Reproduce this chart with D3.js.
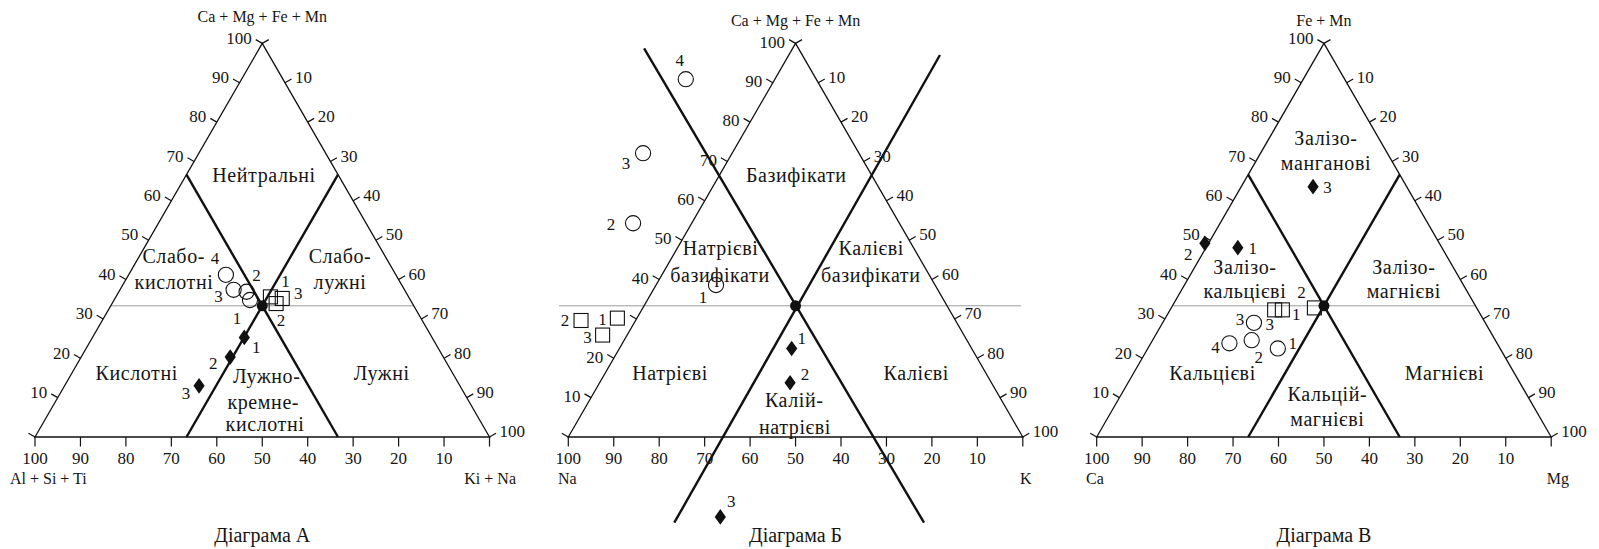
<!DOCTYPE html>
<html><head><meta charset="utf-8">
<script src="https://cdn.jsdelivr.net/npm/d3@7"></script>
<style>
body{margin:0;background:#fff}
svg text{fill:#151515}
</style></head>
<body><svg id="c" width="1599" height="549"></svg>
<script>
// ---------------- DATA (percent) ----------------
const tickValues = [0,10,20,30,40,50,60,70,80,90,100];
const pointNames = ["1","2","3","4"];

// Diagram A: top = Ca+Mg+Fe+Mn, left = Al+Si+Ti, right = Ki+Na
const aCircleTop   = [34.8, 36.9, 37.4, 41.2];
const aCircleRight = [29.9, 28.1, 25.0, 21.4];
const aSquareTop   = [35.6, 33.9, 35.2];
const aSquareRight = [34.0, 36.1, 36.8];
const aDiamondTop   = [25.3, 20.3, 13.0];
const aDiamondRight = [33.4, 32.8, 29.6];

// Diagram B: top = Ca+Mg+Fe+Mn, left = Na, right = K
const bCircleTop = [38.6, 54.3, 72.1, 90.9];
const bCircleNa  = [48.2, 58.6, 47.5, 28.7];
const bSquareTop = [30.2, 29.6, 25.9];
const bSquareNa  = [74.1, 82.4, 79.5];
const bDiamondTop = [22.5, 13.8, -20.3];
const bDiamondNa  = [39.6, 44.3, 76.7];

// Diagram C: top = Fe+Mn, left = Ca, right = Mg
const cCircleTop   = [22.5, 24.6, 29.0, 23.8];
const cCircleRight = [28.6, 21.8, 20.1, 17.3];
const cSquareTop   = [32.3, 32.8, 32.3];
const cSquareRight = [24.7, 31.5, 23.0];
const cDiamondTop   = [48.1, 49.2, 63.6];
const cDiamondRight = [7.0, -0.8, 15.8];

// ---------------- LAYOUT ----------------
const SIDE = 454.5, HT = SIDE*Math.sqrt(3)/2;
const svg = d3.select("#c");
const FONT = "'Liberation Serif','DejaVu Serif',serif";

const panels = [
 {x0:35, yb:437, top:"Ca + Mg + Fe + Mn", topY:16.7, left:"Al + Si + Ti", right:"Ki + Na",
  leftX:10, leftAnchor:"start", rightX:516, rightAnchor:"end", name:"Діаграма А", skipLeft:[], leftDy:0,
  thick:[[[200/3,0],[0,200/3]],[[0,100/3],[200/3,100/3]]], hline:[[100/3,0],[100/3,200/3]],
  regions:[["Нейтральні",229,-262],["Слабо-",138.7,-181],["кислотні",139,-155.3],
   ["Слабо-",305,-181],["лужні",305,-155.3],["Кислотні",101.7,-63.7],
   ["Лужно-",231.7,-61.3],["кремне-",228.3,-35.3],["кислотні",230,-13],["Лужні",346.7,-63.7]],
  series:[
   {type:"circle", top:aCircleTop, right:aCircleRight, lab:[[-13,18],[10,-16],[-15,7],[-11,-16]]},
   {type:"square", top:aSquareTop, right:aSquareRight, lab:[[15,-15],[5,17],[16,-5]]},
   {type:"diamond", top:aDiamondTop, right:aDiamondRight, lab:[[12,10],[-17,6],[-13,8]]}
  ]},
 {x0:568.3, yb:437, top:"Ca + Mg + Fe + Mn", topY:20.7, left:"Na", right:"K",
  leftX:558, leftAnchor:"start", rightX:1020, rightAnchor:"start", name:"Діаграма Б", skipLeft:[30], leftDy:4,
  thick:[[[98.75,-32.7],[-21.77,89.15]],[[-21.77,34.2],[97.05,33.25]]], hline:[[100/3,-18.7],[100/3,82.9]],
  regions:[["Базифікати",228,-262],["Натрієві",152.2,-188.7],["базифікати",151.7,-162],
   ["Калієві",302.9,-188.7],["базифікати",302.5,-162],["Натрієві",101.7,-63.7],
   ["Калієві",348,-63.7],["Калій-",225.9,-37],["натрієві",226.7,-10.3]],
  series:[
   {type:"circle", top:bCircleTop, right:bCircleTop.map((t,i)=>100-t-bCircleNa[i]), lab:[[-13,12],[-22,1],[-17,10],[-6,-19]]},
   {type:"square", top:bSquareTop, right:bSquareTop.map((t,i)=>100-t-bSquareNa[i]), lab:[[-15,1],[-16,0],[-15,2]]},
   {type:"diamond", top:bDiamondTop, right:bDiamondTop.map((t,i)=>100-t-bDiamondNa[i]), lab:[[10,-10],[15,-8],[11,-15]]}
  ]},
 {x0:1096.7, yb:437, top:"Fe + Mn", topY:20.7, left:"Ca", right:"Mg",
  leftX:1086, leftAnchor:"start", rightX:1569, rightAnchor:"end", name:"Діаграма В", skipLeft:[], leftDy:0,
  thick:[[[200/3,0],[0,200/3]],[[0,100/3],[200/3,100/3]]], hline:[[100/3,0],[100/3,200/3]],
  regions:[["Залізо-",229.3,-298.7],["манганові",229.3,-273.7],["Залізо-",148.2,-170.3],["кальцієві",148.2,-146.3],
   ["Залізо-",307.1,-170.3],["магнієві",307.1,-146.3],["Кальцієві",115.9,-63.7],["Магнієві",347.7,-63.7],
   ["Кальцій-",230.7,-43],["магнієві",230.7,-17.7]],
  series:[
   {type:"circle", top:cCircleTop, right:cCircleRight, lab:[[15,-5],[7,17],[-14,-3],[-14,4]]},
   {type:"square", top:cSquareTop, right:cSquareRight, lab:[[14,5],[-13,-15],[-5,15]]},
   {type:"diamond", top:cDiamondTop, right:cDiamondRight, lab:[[15,1],[-16.6,11],[14.5,0.6]]}
  ]}
];

const C30 = Math.cos(Math.PI/6), S30 = 0.5, TL = 7.5, BT = 9.5;

function txt(g, x, y, s, size, anchor){
  return g.append("text").attr("x",x).attr("y",y).attr("text-anchor",anchor||"middle")
    .attr("dominant-baseline","central").attr("font-family",FONT).attr("font-size",size).text(s);
}

panels.forEach(p => {
  const g = svg.append("g");
  const xs = d3.scaleLinear().domain([0,100]).range([p.x0, p.x0+SIDE]);
  const ys = d3.scaleLinear().domain([0,100]).range([p.yb, p.yb-HT]);
  const proj = (t, r) => [xs(r + t/2), ys(t)];
  const line = d3.line();

  g.append("path").attr("d", line(p.hline.map(d=>proj(d[0],d[1]))))
    .attr("stroke","#9a9a9a").attr("stroke-width",1).attr("fill","none");

  g.append("path").attr("d", line([proj(100,0),proj(0,0),proj(0,100)])+"Z")
    .attr("stroke","#111").attr("stroke-width",1.3).attr("fill","none");

  p.thick.forEach(seg => g.append("path").attr("d", line(seg.map(d=>proj(d[0],d[1]))))
    .attr("stroke","#111").attr("stroke-width",2.4).attr("fill","none"));

  tickValues.forEach(v => {
    let [x,y] = proj(v,0);
    g.append("line").attr("x1",x).attr("y1",y).attr("x2",x-TL*C30).attr("y2",y-TL*S30)
      .attr("stroke","#111").attr("stroke-width",1.2);
    if (v>0 && !p.skipLeft.includes(v)) txt(g, x-TL*C30-4, y-TL*S30-1.5+p.leftDy, v, 17, "end");
    [x,y] = proj(100-v, v);
    g.append("line").attr("x1",x).attr("y1",y).attr("x2",x+TL*C30).attr("y2",y-TL*S30)
      .attr("stroke","#111").attr("stroke-width",1.2);
    if (v>0) txt(g, x+TL*C30+3.5, y-TL*S30-1.5, v, 17, "start");
    [x,y] = proj(0, 100-v);
    g.append("line").attr("x1",x).attr("y1",y).attr("x2",x).attr("y2",y+BT)
      .attr("stroke","#111").attr("stroke-width",1.2);
    if (v>0) txt(g, x, y+21, v, 17, "middle");
  });

  const apex = proj(100,0);
  txt(g, apex[0], p.topY, p.top, 16, "middle");
  txt(g, p.leftX, 478.3, p.left, 16, p.leftAnchor);
  txt(g, p.rightX, 478.3, p.right, 16, p.rightAnchor);
  txt(g, apex[0], 535, p.name, 20, "middle");

  p.regions.forEach(r => txt(g, p.x0+r[1], p.yb+r[2], r[0], 20, "middle").attr("letter-spacing",0.6));

  p.series.forEach(s => {
    s.top.forEach((t,i) => {
      const [x,y] = proj(t, s.right[i]);
      if (s.type==="circle")
        g.append("circle").attr("cx",x).attr("cy",y).attr("r",7.6)
          .attr("fill","none").attr("stroke","#111").attr("stroke-width",1.1);
      else if (s.type==="square")
        g.append("rect").attr("x",x-7).attr("y",y-7).attr("width",14).attr("height",14)
          .attr("fill","none").attr("stroke","#111").attr("stroke-width",1.1);
      else
        g.append("path").attr("transform",`translate(${x},${y})`)
          .attr("d","M0,-7.8L5.6,0L0,7.8L-5.6,0Z").attr("fill","#111");
      txt(g, x+s.lab[i][0], y+s.lab[i][1], pointNames[i], 17, "middle");
    });
  });

  const c = proj(100/3, 100/3);
  g.append("circle").attr("cx",c[0]).attr("cy",c[1]).attr("r",5.5).attr("fill","#111");
});
</script></body></html>
